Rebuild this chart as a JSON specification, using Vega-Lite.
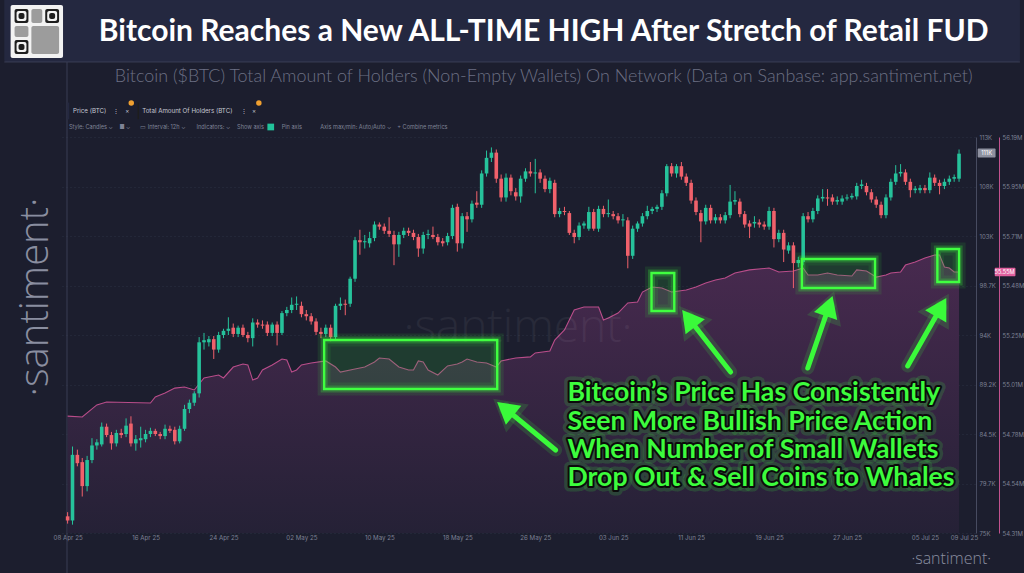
{
"$schema": "https://vega.github.io/schema/vega-lite/v6.json",
"width": 914, "height": 396,
"autosize": {"type": "none"},
"padding": {"left": 61, "top": 137, "right": 49, "bottom": 40},
"background": "#1c1e2e",
"config": {"view": {"stroke": null},
 "axisX": {"grid": false, "domain": false, "ticks": false, "labelColor": "#7d8194", "labelFont": "Inter", "labelFontSize": 6.2, "labelPadding": 1.5, "labelFlush": 5, "labelOverlap": false}},
"params": [{"name": "xv", "expr": "[datetime(2025,3,8),datetime(2025,3,16),datetime(2025,3,24),datetime(2025,4,2),datetime(2025,4,10),datetime(2025,4,18),datetime(2025,4,26),datetime(2025,5,3),datetime(2025,5,11),datetime(2025,5,19),datetime(2025,5,27),datetime(2025,6,5),datetime(2025,6,9)]"}],
"datasets": {
"candles": [
{"t":"2025-04-08T00:00","o":76.6,"h":77.0,"l":75.9,"c":76.2},
{"t":"2025-04-08T12:00","o":76.2,"h":83.3,"l":75.8,"c":82.5},
{"t":"2025-04-09T00:00","o":82.5,"h":83.0,"l":81.4,"c":81.7},
{"t":"2025-04-09T12:00","o":81.8,"h":82.2,"l":78.5,"c":79.5},
{"t":"2025-04-10T00:00","o":79.5,"h":82.4,"l":79.0,"c":82.0},
{"t":"2025-04-10T12:00","o":82.0,"h":84.1,"l":81.7,"c":83.4},
{"t":"2025-04-11T00:00","o":83.4,"h":84.0,"l":83.0,"c":83.7},
{"t":"2025-04-11T12:00","o":83.5,"h":85.6,"l":83.3,"c":85.2},
{"t":"2025-04-12T00:00","o":85.2,"h":85.5,"l":84.2,"c":84.4},
{"t":"2025-04-12T12:00","o":84.4,"h":84.7,"l":83.0,"c":83.6},
{"t":"2025-04-13T00:00","o":83.6,"h":84.9,"l":83.3,"c":84.6},
{"t":"2025-04-13T12:00","o":84.6,"h":85.0,"l":84.1,"c":84.4},
{"t":"2025-04-14T00:00","o":84.5,"h":86.0,"l":84.2,"c":85.3},
{"t":"2025-04-14T12:00","o":85.5,"h":86.2,"l":83.3,"c":83.6},
{"t":"2025-04-15T00:00","o":83.6,"h":84.4,"l":82.9,"c":84.0},
{"t":"2025-04-15T12:00","o":83.9,"h":85.2,"l":83.2,"c":84.1},
{"t":"2025-04-16T00:00","o":84.0,"h":84.9,"l":83.7,"c":84.5},
{"t":"2025-04-16T12:00","o":84.5,"h":85.1,"l":84.2,"c":84.8},
{"t":"2025-04-17T00:00","o":84.8,"h":85.0,"l":84.3,"c":84.5},
{"t":"2025-04-17T12:00","o":84.5,"h":84.7,"l":84.0,"c":84.3},
{"t":"2025-04-18T00:00","o":84.3,"h":85.4,"l":84.0,"c":85.0},
{"t":"2025-04-18T12:00","o":85.0,"h":85.3,"l":84.6,"c":84.8},
{"t":"2025-04-19T00:00","o":84.9,"h":85.2,"l":83.5,"c":83.8},
{"t":"2025-04-19T12:00","o":83.8,"h":85.3,"l":83.6,"c":85.0},
{"t":"2025-04-20T00:00","o":85.0,"h":87.3,"l":84.8,"c":86.9},
{"t":"2025-04-20T12:00","o":86.9,"h":87.8,"l":86.5,"c":87.5},
{"t":"2025-04-21T00:00","o":87.5,"h":88.6,"l":87.2,"c":88.4},
{"t":"2025-04-21T12:00","o":88.4,"h":93.8,"l":88.0,"c":93.3},
{"t":"2025-04-22T00:00","o":93.3,"h":94.2,"l":92.6,"c":93.5},
{"t":"2025-04-22T12:00","o":93.3,"h":93.9,"l":92.9,"c":93.6},
{"t":"2025-04-23T00:00","o":93.6,"h":93.9,"l":91.7,"c":92.6},
{"t":"2025-04-23T12:00","o":92.6,"h":94.3,"l":92.3,"c":94.0},
{"t":"2025-04-24T00:00","o":94.0,"h":94.6,"l":93.7,"c":94.4},
{"t":"2025-04-24T12:00","o":94.4,"h":95.7,"l":94.0,"c":94.6},
{"t":"2025-04-25T00:00","o":94.7,"h":95.1,"l":93.8,"c":94.1},
{"t":"2025-04-25T12:00","o":94.1,"h":94.9,"l":93.8,"c":94.7},
{"t":"2025-04-26T00:00","o":94.7,"h":95.0,"l":93.8,"c":94.0},
{"t":"2025-04-26T12:00","o":94.0,"h":94.3,"l":93.3,"c":93.7},
{"t":"2025-04-27T00:00","o":93.7,"h":95.6,"l":92.9,"c":95.2},
{"t":"2025-04-27T12:00","o":95.2,"h":95.5,"l":94.7,"c":95.0},
{"t":"2025-04-28T00:00","o":95.0,"h":95.4,"l":94.6,"c":94.9},
{"t":"2025-04-28T12:00","o":95.0,"h":95.3,"l":93.9,"c":94.2},
{"t":"2025-04-29T00:00","o":94.2,"h":95.2,"l":93.9,"c":95.0},
{"t":"2025-04-29T12:00","o":95.0,"h":95.3,"l":93.0,"c":94.2},
{"t":"2025-04-30T00:00","o":94.2,"h":96.3,"l":94.0,"c":96.1},
{"t":"2025-04-30T12:00","o":96.1,"h":96.7,"l":95.8,"c":96.4},
{"t":"2025-05-01T00:00","o":96.4,"h":97.6,"l":96.1,"c":96.9},
{"t":"2025-05-01T12:00","o":96.9,"h":97.7,"l":96.4,"c":97.0},
{"t":"2025-05-02T00:00","o":96.8,"h":97.2,"l":95.7,"c":96.0},
{"t":"2025-05-02T12:00","o":96.0,"h":96.4,"l":95.4,"c":95.8},
{"t":"2025-05-03T00:00","o":95.8,"h":96.1,"l":95.0,"c":95.3},
{"t":"2025-05-03T12:00","o":95.3,"h":95.6,"l":94.0,"c":94.3},
{"t":"2025-05-04T00:00","o":94.3,"h":94.7,"l":93.7,"c":94.1},
{"t":"2025-05-04T12:00","o":94.1,"h":95.0,"l":93.8,"c":94.7},
{"t":"2025-05-05T00:00","o":94.7,"h":95.0,"l":93.4,"c":93.8},
{"t":"2025-05-05T12:00","o":93.8,"h":97.0,"l":93.5,"c":96.8},
{"t":"2025-05-06T00:00","o":96.8,"h":97.6,"l":96.4,"c":97.0},
{"t":"2025-05-06T12:00","o":97.0,"h":97.4,"l":95.9,"c":96.9},
{"t":"2025-05-07T00:00","o":97.0,"h":99.6,"l":96.7,"c":99.4},
{"t":"2025-05-07T12:00","o":99.4,"h":103.4,"l":99.1,"c":103.1},
{"t":"2025-05-08T00:00","o":103.1,"h":104.1,"l":101.7,"c":102.9},
{"t":"2025-05-08T12:00","o":102.9,"h":103.6,"l":102.3,"c":103.0},
{"t":"2025-05-09T00:00","o":102.8,"h":103.9,"l":102.4,"c":103.3},
{"t":"2025-05-09T12:00","o":103.3,"h":104.9,"l":103.0,"c":104.6},
{"t":"2025-05-10T00:00","o":104.6,"h":104.8,"l":104.1,"c":104.4},
{"t":"2025-05-10T12:00","o":104.4,"h":104.7,"l":103.7,"c":104.0},
{"t":"2025-05-11T00:00","o":104.0,"h":105.3,"l":103.4,"c":103.7},
{"t":"2025-05-11T12:00","o":103.6,"h":104.0,"l":100.7,"c":102.7},
{"t":"2025-05-12T00:00","o":102.7,"h":103.9,"l":101.5,"c":103.6},
{"t":"2025-05-12T12:00","o":103.6,"h":104.3,"l":103.3,"c":104.0},
{"t":"2025-05-13T00:00","o":104.0,"h":104.3,"l":103.5,"c":103.8},
{"t":"2025-05-13T12:00","o":103.8,"h":104.1,"l":103.1,"c":103.4},
{"t":"2025-05-14T00:00","o":103.4,"h":103.7,"l":101.5,"c":102.3},
{"t":"2025-05-14T12:00","o":102.3,"h":103.9,"l":101.8,"c":103.6},
{"t":"2025-05-15T00:00","o":103.6,"h":104.1,"l":103.2,"c":103.7},
{"t":"2025-05-15T12:00","o":103.6,"h":104.4,"l":103.2,"c":103.4},
{"t":"2025-05-16T00:00","o":103.4,"h":103.7,"l":102.6,"c":102.9},
{"t":"2025-05-16T12:00","o":103.0,"h":103.3,"l":102.5,"c":102.8},
{"t":"2025-05-17T00:00","o":102.9,"h":103.8,"l":102.6,"c":103.5},
{"t":"2025-05-17T12:00","o":103.5,"h":106.5,"l":103.2,"c":106.2},
{"t":"2025-05-18T00:00","o":106.3,"h":106.6,"l":102.0,"c":102.8},
{"t":"2025-05-18T12:00","o":102.8,"h":105.7,"l":102.3,"c":105.4},
{"t":"2025-05-19T00:00","o":105.4,"h":105.8,"l":103.9,"c":105.1},
{"t":"2025-05-19T12:00","o":105.1,"h":106.9,"l":104.8,"c":106.6},
{"t":"2025-05-20T00:00","o":106.7,"h":107.8,"l":106.2,"c":106.5},
{"t":"2025-05-20T12:00","o":106.5,"h":109.8,"l":106.2,"c":109.5},
{"t":"2025-05-21T00:00","o":109.5,"h":111.7,"l":109.2,"c":111.0},
{"t":"2025-05-21T12:00","o":111.0,"h":112.0,"l":110.6,"c":111.5},
{"t":"2025-05-22T00:00","o":111.5,"h":111.8,"l":108.6,"c":109.0},
{"t":"2025-05-22T12:00","o":109.0,"h":109.4,"l":106.8,"c":107.2},
{"t":"2025-05-23T00:00","o":107.2,"h":109.5,"l":106.8,"c":109.1},
{"t":"2025-05-23T12:00","o":109.1,"h":109.4,"l":107.4,"c":107.8},
{"t":"2025-05-24T00:00","o":107.7,"h":108.1,"l":106.9,"c":107.3},
{"t":"2025-05-24T12:00","o":107.3,"h":109.3,"l":106.7,"c":109.0},
{"t":"2025-05-25T00:00","o":109.0,"h":110.0,"l":108.7,"c":109.7},
{"t":"2025-05-25T12:00","o":109.7,"h":110.6,"l":109.2,"c":109.5},
{"t":"2025-05-26T00:00","o":109.5,"h":110.9,"l":107.6,"c":109.6},
{"t":"2025-05-26T12:00","o":109.6,"h":109.9,"l":108.6,"c":109.0},
{"t":"2025-05-27T00:00","o":109.0,"h":109.3,"l":107.7,"c":108.0},
{"t":"2025-05-27T12:00","o":108.0,"h":109.1,"l":107.6,"c":108.8},
{"t":"2025-05-28T00:00","o":108.6,"h":108.9,"l":105.3,"c":105.6},
{"t":"2025-05-28T12:00","o":105.6,"h":106.2,"l":105.3,"c":105.9},
{"t":"2025-05-29T00:00","o":105.9,"h":106.3,"l":105.5,"c":105.8},
{"t":"2025-05-29T12:00","o":105.7,"h":105.9,"l":103.6,"c":103.8},
{"t":"2025-05-30T00:00","o":103.8,"h":104.1,"l":102.8,"c":103.4},
{"t":"2025-05-30T12:00","o":103.4,"h":104.8,"l":103.1,"c":104.5},
{"t":"2025-05-31T00:00","o":104.5,"h":104.9,"l":104.2,"c":104.7},
{"t":"2025-05-31T12:00","o":104.2,"h":106.3,"l":104.0,"c":105.8},
{"t":"2025-06-01T00:00","o":105.8,"h":106.1,"l":104.0,"c":104.2},
{"t":"2025-06-01T12:00","o":104.2,"h":106.4,"l":103.9,"c":106.1},
{"t":"2025-06-02T00:00","o":106.1,"h":106.4,"l":105.3,"c":105.6},
{"t":"2025-06-02T12:00","o":105.6,"h":107.0,"l":105.3,"c":105.7},
{"t":"2025-06-03T00:00","o":105.6,"h":105.9,"l":105.1,"c":105.4},
{"t":"2025-06-03T12:00","o":105.4,"h":105.7,"l":104.7,"c":105.0},
{"t":"2025-06-04T00:00","o":105.0,"h":105.6,"l":104.4,"c":105.1},
{"t":"2025-06-04T12:00","o":105.0,"h":105.3,"l":100.4,"c":101.6},
{"t":"2025-06-05T00:00","o":101.6,"h":104.5,"l":101.3,"c":104.2},
{"t":"2025-06-05T12:00","o":104.2,"h":104.9,"l":103.9,"c":104.7},
{"t":"2025-06-06T00:00","o":104.7,"h":105.7,"l":104.4,"c":105.4},
{"t":"2025-06-06T12:00","o":105.4,"h":106.4,"l":105.1,"c":105.9},
{"t":"2025-06-07T00:00","o":105.9,"h":106.3,"l":105.6,"c":106.1},
{"t":"2025-06-07T12:00","o":106.1,"h":106.5,"l":105.8,"c":106.3},
{"t":"2025-06-08T00:00","o":106.3,"h":107.9,"l":106.0,"c":107.6},
{"t":"2025-06-08T12:00","o":107.6,"h":110.4,"l":107.3,"c":110.2},
{"t":"2025-06-09T00:00","o":110.2,"h":110.5,"l":109.2,"c":109.5},
{"t":"2025-06-09T12:00","o":109.5,"h":110.4,"l":109.1,"c":110.2},
{"t":"2025-06-10T00:00","o":110.2,"h":110.6,"l":108.9,"c":109.2},
{"t":"2025-06-10T12:00","o":109.2,"h":109.5,"l":108.3,"c":108.6},
{"t":"2025-06-11T00:00","o":108.6,"h":108.9,"l":106.6,"c":106.9},
{"t":"2025-06-11T12:00","o":106.9,"h":107.2,"l":105.5,"c":105.8},
{"t":"2025-06-12T00:00","o":105.7,"h":106.0,"l":102.9,"c":104.9},
{"t":"2025-06-12T12:00","o":104.9,"h":106.5,"l":104.6,"c":106.2},
{"t":"2025-06-13T00:00","o":106.2,"h":106.5,"l":104.7,"c":105.0},
{"t":"2025-06-13T12:00","o":105.0,"h":105.6,"l":104.7,"c":105.3},
{"t":"2025-06-14T00:00","o":105.3,"h":105.6,"l":104.7,"c":105.0},
{"t":"2025-06-14T12:00","o":105.0,"h":105.8,"l":104.7,"c":105.5},
{"t":"2025-06-15T00:00","o":105.5,"h":108.4,"l":105.2,"c":106.8},
{"t":"2025-06-15T12:00","o":106.8,"h":107.8,"l":106.5,"c":106.95},
{"t":"2025-06-16T00:00","o":106.8,"h":107.1,"l":105.3,"c":105.6},
{"t":"2025-06-16T12:00","o":105.6,"h":105.9,"l":104.3,"c":104.6},
{"t":"2025-06-17T00:00","o":104.7,"h":105.0,"l":103.3,"c":104.4},
{"t":"2025-06-17T12:00","o":104.7,"h":105.4,"l":104.3,"c":104.85},
{"t":"2025-06-18T00:00","o":104.8,"h":105.1,"l":104.3,"c":104.6},
{"t":"2025-06-18T12:00","o":104.6,"h":104.9,"l":104.1,"c":104.4},
{"t":"2025-06-19T00:00","o":104.4,"h":106.3,"l":104.1,"c":105.9},
{"t":"2025-06-19T12:00","o":105.9,"h":106.2,"l":102.4,"c":103.2},
{"t":"2025-06-20T00:00","o":103.2,"h":104.1,"l":102.9,"c":103.8},
{"t":"2025-06-20T12:00","o":103.8,"h":104.1,"l":101.0,"c":102.2},
{"t":"2025-06-21T00:00","o":102.1,"h":102.9,"l":101.8,"c":102.6},
{"t":"2025-06-21T12:00","o":102.6,"h":102.9,"l":98.5,"c":100.9},
{"t":"2025-06-22T00:00","o":100.9,"h":101.5,"l":100.5,"c":101.2},
{"t":"2025-06-22T12:00","o":101.0,"h":105.7,"l":100.7,"c":105.4},
{"t":"2025-06-23T00:00","o":105.4,"h":105.8,"l":104.8,"c":105.1},
{"t":"2025-06-23T12:00","o":105.1,"h":106.2,"l":104.8,"c":105.9},
{"t":"2025-06-24T00:00","o":105.9,"h":107.4,"l":105.6,"c":107.1},
{"t":"2025-06-24T12:00","o":107.1,"h":108.0,"l":106.8,"c":107.25},
{"t":"2025-06-25T00:00","o":107.2,"h":108.0,"l":106.4,"c":107.1},
{"t":"2025-06-25T12:00","o":107.2,"h":107.5,"l":106.5,"c":106.8},
{"t":"2025-06-26T00:00","o":106.8,"h":107.3,"l":106.5,"c":106.95},
{"t":"2025-06-26T12:00","o":106.8,"h":107.4,"l":106.5,"c":107.1},
{"t":"2025-06-27T00:00","o":107.1,"h":107.5,"l":106.9,"c":107.2},
{"t":"2025-06-27T12:00","o":107.2,"h":107.6,"l":107.0,"c":107.35},
{"t":"2025-06-28T00:00","o":107.3,"h":108.6,"l":107.0,"c":108.3},
{"t":"2025-06-28T12:00","o":108.3,"h":108.9,"l":108.0,"c":108.45},
{"t":"2025-06-29T00:00","o":108.3,"h":108.6,"l":107.4,"c":107.7},
{"t":"2025-06-29T12:00","o":107.7,"h":108.0,"l":106.7,"c":107.0},
{"t":"2025-06-30T00:00","o":107.0,"h":107.3,"l":106.2,"c":106.5},
{"t":"2025-06-30T12:00","o":106.5,"h":106.8,"l":105.2,"c":105.5},
{"t":"2025-07-01T00:00","o":105.5,"h":107.5,"l":105.2,"c":107.2},
{"t":"2025-07-01T12:00","o":107.2,"h":109.0,"l":106.9,"c":108.7},
{"t":"2025-07-02T00:00","o":108.7,"h":110.3,"l":108.4,"c":109.5},
{"t":"2025-07-02T12:00","o":109.5,"h":110.4,"l":109.2,"c":109.65},
{"t":"2025-07-03T00:00","o":109.6,"h":109.9,"l":108.4,"c":108.7},
{"t":"2025-07-03T12:00","o":108.7,"h":109.0,"l":107.2,"c":107.9},
{"t":"2025-07-04T00:00","o":107.9,"h":108.3,"l":107.6,"c":108.05},
{"t":"2025-07-04T12:00","o":107.9,"h":108.4,"l":107.6,"c":108.1},
{"t":"2025-07-05T00:00","o":108.1,"h":108.4,"l":107.6,"c":107.9},
{"t":"2025-07-05T12:00","o":107.9,"h":109.6,"l":107.6,"c":109.1},
{"t":"2025-07-06T00:00","o":109.1,"h":109.4,"l":108.3,"c":108.6},
{"t":"2025-07-06T12:00","o":108.6,"h":108.9,"l":107.5,"c":108.3},
{"t":"2025-07-07T00:00","o":108.3,"h":109.0,"l":108.0,"c":108.7},
{"t":"2025-07-07T12:00","o":108.7,"h":109.3,"l":108.4,"c":109.0},
{"t":"2025-07-08T00:00","o":109.0,"h":109.4,"l":108.7,"c":109.15},
{"t":"2025-07-08T12:00","o":109.0,"h":111.8,"l":108.7,"c":111.4}
],
"holders": [
{"t":"2025-04-08T00:00","v":54.865},{"t":"2025-04-09T12:00","v":54.861},{"t":"2025-04-11T00:00","v":54.918},{"t":"2025-04-12T00:00","v":54.932},
{"t":"2025-04-16T12:00","v":54.927},{"t":"2025-04-17T00:00","v":54.956},{"t":"2025-04-18T00:00","v":54.975},{"t":"2025-04-19T00:00","v":54.998},
{"t":"2025-04-20T00:00","v":55.003},{"t":"2025-04-21T00:00","v":54.989},{"t":"2025-04-22T00:00","v":55.046},{"t":"2025-04-22T12:00","v":55.051},
{"t":"2025-04-23T12:00","v":55.060},{"t":"2025-04-24T00:00","v":55.046},{"t":"2025-04-25T00:00","v":55.098},{"t":"2025-04-26T00:00","v":55.112},
{"t":"2025-04-26T12:00","v":55.108},{"t":"2025-04-27T00:00","v":55.036},{"t":"2025-04-27T12:00","v":55.046},{"t":"2025-04-28T00:00","v":55.084},
{"t":"2025-04-29T00:00","v":55.108},{"t":"2025-04-30T00:00","v":55.136},{"t":"2025-04-30T12:00","v":55.131},{"t":"2025-05-01T00:00","v":55.074},
{"t":"2025-05-01T12:00","v":55.084},{"t":"2025-05-02T00:00","v":55.108},{"t":"2025-05-03T00:00","v":55.117},{"t":"2025-05-04T12:00","v":55.127},
{"t":"2025-05-05T12:00","v":55.098},{"t":"2025-05-06T00:00","v":55.074},{"t":"2025-05-07T12:00","v":55.089},{"t":"2025-05-08T12:00","v":55.098},
{"t":"2025-05-09T12:00","v":55.122},{"t":"2025-05-10T00:00","v":55.141},{"t":"2025-05-11T00:00","v":55.136},{"t":"2025-05-12T00:00","v":55.098},
{"t":"2025-05-13T00:00","v":55.084},{"t":"2025-05-13T12:00","v":55.084},{"t":"2025-05-14T00:00","v":55.127},{"t":"2025-05-14T12:00","v":55.122},
{"t":"2025-05-15T00:00","v":55.084},{"t":"2025-05-16T00:00","v":55.060},{"t":"2025-05-17T00:00","v":55.103},{"t":"2025-05-18T00:00","v":55.112},
{"t":"2025-05-18T12:00","v":55.122},{"t":"2025-05-19T00:00","v":55.136},{"t":"2025-05-20T00:00","v":55.122},{"t":"2025-05-21T00:00","v":55.117},
{"t":"2025-05-22T00:00","v":55.098},{"t":"2025-05-22T12:00","v":55.127},{"t":"2025-05-24T00:00","v":55.141},{"t":"2025-05-25T12:00","v":55.146},
{"t":"2025-05-26T00:00","v":55.165},{"t":"2025-05-27T12:00","v":55.174},{"t":"2025-05-28T00:00","v":55.226},{"t":"2025-05-29T00:00","v":55.274},
{"t":"2025-05-30T00:00","v":55.369},{"t":"2025-05-31T00:00","v":55.383},{"t":"2025-06-01T12:00","v":55.383},{"t":"2025-06-02T00:00","v":55.321},
{"t":"2025-06-02T12:00","v":55.331},{"t":"2025-06-03T12:00","v":55.354},{"t":"2025-06-04T12:00","v":55.402},{"t":"2025-06-05T12:00","v":55.407},
{"t":"2025-06-06T00:00","v":55.454},{"t":"2025-06-07T00:00","v":55.478},{"t":"2025-06-08T00:00","v":55.473},{"t":"2025-06-09T00:00","v":55.454},
{"t":"2025-06-10T12:00","v":55.464},{"t":"2025-06-11T12:00","v":55.478},{"t":"2025-06-12T12:00","v":55.497},{"t":"2025-06-13T12:00","v":55.511},
{"t":"2025-06-14T12:00","v":55.521},{"t":"2025-06-15T12:00","v":55.544},{"t":"2025-06-17T00:00","v":55.559},{"t":"2025-06-19T00:00","v":55.568},
{"t":"2025-06-20T00:00","v":55.549},{"t":"2025-06-21T12:00","v":55.554},{"t":"2025-06-22T12:00","v":55.568},{"t":"2025-06-23T00:00","v":55.535},
{"t":"2025-06-24T00:00","v":55.535},{"t":"2025-06-25T00:00","v":55.544},{"t":"2025-06-26T00:00","v":55.535},{"t":"2025-06-27T12:00","v":55.530},
{"t":"2025-06-28T00:00","v":55.559},{"t":"2025-06-29T00:00","v":55.554},{"t":"2025-06-30T00:00","v":55.525},{"t":"2025-07-01T00:00","v":55.535},
{"t":"2025-07-01T12:00","v":55.544},{"t":"2025-07-02T12:00","v":55.549},{"t":"2025-07-03T00:00","v":55.582},{"t":"2025-07-04T00:00","v":55.597},
{"t":"2025-07-05T00:00","v":55.616},{"t":"2025-07-06T00:00","v":55.630},{"t":"2025-07-06T12:00","v":55.630},{"t":"2025-07-07T00:00","v":55.573},
{"t":"2025-07-07T12:00","v":55.568},{"t":"2025-07-08T00:00","v":55.549},{"t":"2025-07-08T12:00","v":55.549}
],
"boxes": [
{"t1":"2025-05-04T07:55","t2":"2025-05-22T02:20","p1":88.82,"p2":93.52},
{"t1":"2025-06-06T22:25","t2":"2025-06-09T06:30","p1":96.30,"p2":99.95},
{"t1":"2025-06-22T08:50","t2":"2025-06-29T21:05","p1":98.51,"p2":101.29},
{"t1":"2025-07-06T06:35","t2":"2025-07-08T12:10","p1":99.09,"p2":102.25}
],
"arrows": [
{"t1":"2025-05-28T02:05","p1":82.96,"t2":"2025-05-22T22:20","p2":86.93,"a":309},
{"t1":"2025-06-15T01:20","p1":90.45,"t2":"2025-06-10T18:00","p2":95.60,"a":322},
{"t1":"2025-06-22T23:20","p1":90.83,"t2":"2025-06-25T03:50","p2":96.78,"a":19},
{"t1":"2025-07-03T05:30","p1":91.03,"t2":"2025-07-06T15:35","p2":96.67,"a":30}
],
"notes": [
{"t":"2025-05-29T07:18","p":88.43,"s":"Bitcoin’s Price Has Consistently"},
{"t":"2025-05-29T07:18","p":85.65,"s":"Seen More Bullish Price Action"},
{"t":"2025-05-29T07:18","p":82.96,"s":"When Number of Small Wallets"},
{"t":"2025-05-29T07:18","p":80.28,"s":"Drop Out & Sell Coins to Whales"}
],
"decor": [
{"kind":"band","t1":"2025-04-01T12:00","t2":"2025-07-14T18:00","p1":120.2,"p2":126.5},
{"kind":"w","t1":"2025-04-02T03:34","t2":"2025-04-07T12:41","p1":120.58,"p2":125.67},
{"kind":"g","t1":"2025-04-04T06:42","t2":"2025-04-05T09:32","p1":123.94,"p2":125.28},
{"kind":"g","t1":"2025-04-02T13:18","t2":"2025-04-03T23:25","p1":122.60,"p2":123.65},
{"kind":"g","t1":"2025-04-04T06:42","t2":"2025-04-07T02:57","p1":120.97,"p2":123.65},
{"kind":"b","t1":"2025-04-02T13:18","t2":"2025-04-03T23:25","p1":123.94,"p2":125.28},
{"kind":"w","t1":"2025-04-02T18:12","t2":"2025-04-03T18:32","p1":124.13,"p2":125.09},
{"kind":"b","t1":"2025-04-02T23:03","t2":"2025-04-03T13:40","p1":124.32,"p2":124.90},
{"kind":"b","t1":"2025-04-05T16:50","t2":"2025-04-07T02:57","p1":123.94,"p2":125.28},
{"kind":"w","t1":"2025-04-05T21:43","t2":"2025-04-06T22:05","p1":124.13,"p2":125.09},
{"kind":"b","t1":"2025-04-06T02:35","t2":"2025-04-06T17:12","p1":124.32,"p2":124.90},
{"kind":"b","t1":"2025-04-02T13:18","t2":"2025-04-03T23:25","p1":120.97,"p2":122.31},
{"kind":"w","t1":"2025-04-02T18:12","t2":"2025-04-03T18:32","p1":121.16,"p2":122.12},
{"kind":"b","t1":"2025-04-02T23:03","t2":"2025-04-03T13:40","p1":121.35,"p2":121.92}
],
"seps": [
{"t1":"2025-04-01T12:00","t2":"2025-07-14T18:00","p1":120.2,"p2":120.2},
{"t1":"2025-04-07T22:26","t2":"2025-04-07T22:26","p1":120.2,"p2":71.0}
],
"tb1": [
{"t":"2025-04-08T13:04","p":115.5,"s":"Price (BTC)"},
{"t":"2025-04-12T16:58","p":115.5,"s":"⋮"},
{"t":"2025-04-13T22:12","p":115.5,"s":"×"},
{"t":"2025-04-15T15:36","p":115.5,"s":"Total Amount Of Holders (BTC)"},
{"t":"2025-04-25T19:18","p":115.5,"s":"⋮"},
{"t":"2025-04-26T22:06","p":115.5,"s":"×"}
],
"tb2": [
{"t":"2025-04-08T03:18","p":113.96,"s":"Style: Candles  ⌄"},
{"t":"2025-04-13T07:36","p":113.96,"s":"■  ⌄"},
{"t":"2025-04-15T10:42","p":113.96,"s":"▭  Interval: 12h  ⌄"},
{"t":"2025-04-21T05:36","p":113.96,"s":"Indicators:  ⌄"},
{"t":"2025-04-25T09:30","p":113.96,"s":"Show axis"},
{"t":"2025-04-29T23:12","p":113.96,"s":"Pin axis"},
{"t":"2025-05-03T22:12","p":113.96,"s":"Axis max/min: Auto/Auto  ⌄"},
{"t":"2025-05-11T20:12","p":113.96,"s":"+  Combine metrics"}
]
},
"layer": [
{"data": {"name": "decor"}, "mark": {"type": "rect", "cornerRadius": 2},
 "encoding": {
  "x": {"field": "t1", "type": "temporal", "scale": {"domain": [{"year":2025,"month":4,"date":7,"hours":20},{"year":2025,"month":7,"date":9,"hours":15}], "nice": false}, "axis": {"title": null, "format": "%d %b %y", "values": {"signal": "xv"}}},
  "x2": {"field": "t2"},
  "y": {"field": "p1", "type": "quantitative", "scale": {"domain": [75, 113], "nice": false, "zero": false}, "axis": null},
  "y2": {"field": "p2"},
  "color": {"field": "kind", "type": "nominal", "legend": null, "scale": {"domain": ["band","w","b","g"], "range": ["#242840","#f2f2f2","#1e1e1e","#9c9c9c"]}}}},
{"data": {"name": "seps"}, "mark": {"type": "rule", "color": "#3a3e55", "strokeWidth": 1},
 "encoding": {
  "x": {"field": "t1", "type": "temporal", "axis": {"title": null, "format": "%d %b %y", "values": {"signal": "xv"}}}, "x2": {"field": "t2"},
  "y": {"field": "p1", "type": "quantitative", "scale": {"domain": [75, 113], "nice": false, "zero": false}, "axis": null}, "y2": {"field": "p2"}}},
{"data": {"values": [{"t":"2025-04-04T18:55","p":97.65,"s":"·santiment·"}]},
 "mark": {"type": "text", "font": "Open Sans", "fontSize": 40, "fontWeight": 300, "color": "#8a8ea0", "align": "center", "baseline": "middle", "angle": 270},
 "encoding": {"x": {"field": "t", "type": "temporal", "axis": {"title": null, "format": "%d %b %y", "values": {"signal": "xv"}}}, "y": {"field": "p", "type": "quantitative", "scale": {"domain": [75, 113], "nice": false, "zero": false}, "axis": null}, "text": {"field": "s"}}},
{"data": {"values": [{"t":"2025-07-07T16:45","p":72.55,"s":"·santiment·"}]},
 "mark": {"type": "text", "font": "Open Sans", "fontSize": 16, "fontWeight": 300, "color": "#8a8ea0", "align": "center", "baseline": "middle"},
 "encoding": {"x": {"field": "t", "type": "temporal", "axis": {"title": null, "format": "%d %b %y", "values": {"signal": "xv"}}}, "y": {"field": "p", "type": "quantitative", "scale": {"domain": [75, 113], "nice": false, "zero": false}, "axis": null}, "text": {"field": "s"}}},
{"data": {"values": [{"t":"2025-05-26T20:48","p":123.08,"s":"Bitcoin Reaches a New ALL-TIME HIGH After Stretch of Retail FUD"}]},
 "mark": {"type": "text", "font": "Lato", "fontSize": 30, "fontWeight": "bold", "color": "#ffffff", "align": "center", "baseline": "middle"},
 "encoding": {"x": {"field": "t", "type": "temporal", "axis": {"title": null, "format": "%d %b %y", "values": {"signal": "xv"}}}, "y": {"field": "p", "type": "quantitative", "scale": {"domain": [75, 113], "nice": false, "zero": false}, "axis": null}, "text": {"field": "s"}}},
{"data": {"values": [{"t":"2025-05-26T20:48","p":118.76,"s":"Bitcoin ($BTC) Total Amount of Holders (Non-Empty Wallets) On Network (Data on Sanbase: app.santiment.net)"}]},
 "mark": {"type": "text", "font": "Lato", "fontSize": 17.9, "fontWeight": 300, "color": "#6c7084", "align": "center", "baseline": "middle"},
 "encoding": {"x": {"field": "t", "type": "temporal", "axis": {"title": null, "format": "%d %b %y", "values": {"signal": "xv"}}}, "y": {"field": "p", "type": "quantitative", "scale": {"domain": [75, 113], "nice": false, "zero": false}, "axis": null}, "text": {"field": "s"}}},
{"data": {"name": "tb1"},
 "mark": {"type": "text", "font": "Inter", "fontSize": 6.2, "color": "#c5c8d3", "align": "left", "baseline": "middle"},
 "encoding": {"x": {"field": "t", "type": "temporal", "axis": {"title": null, "format": "%d %b %y", "values": {"signal": "xv"}}}, "y": {"field": "p", "type": "quantitative", "scale": {"domain": [75, 113], "nice": false, "zero": false}, "axis": null}, "text": {"field": "s"}}},
{"data": {"name": "tb2"},
 "mark": {"type": "text", "font": "Inter", "fontSize": 5.6, "color": "#7f8396", "align": "left", "baseline": "middle"},
 "encoding": {"x": {"field": "t", "type": "temporal", "axis": {"title": null, "format": "%d %b %y", "values": {"signal": "xv"}}}, "y": {"field": "p", "type": "quantitative", "scale": {"domain": [75, 113], "nice": false, "zero": false}, "axis": null}, "text": {"field": "s"}}},
{"data": {"values": [{"t":"2025-04-14T12:48","p":116.26},{"t":"2025-04-27T15:06","p":116.26}]},
 "mark": {"type": "point", "shape": "circle", "filled": true, "size": 30, "color": "#f0a030", "opacity": 1},
 "encoding": {"x": {"field": "t", "type": "temporal", "axis": {"title": null, "format": "%d %b %y", "values": {"signal": "xv"}}}, "y": {"field": "p", "type": "quantitative", "scale": {"domain": [75, 113], "nice": false, "zero": false}, "axis": null}}},
{"data": {"values": [{"t":"2025-04-28T20:24","p":113.96}]},
 "mark": {"type": "point", "shape": "square", "filled": true, "size": 45, "color": "#22c39a", "opacity": 1},
 "encoding": {"x": {"field": "t", "type": "temporal", "axis": {"title": null, "format": "%d %b %y", "values": {"signal": "xv"}}}, "y": {"field": "p", "type": "quantitative", "scale": {"domain": [75, 113], "nice": false, "zero": false}, "axis": null}}},
{"data": {"values": [{"t":"2025-04-08T02:06","p1":116.3,"p2":114.7,"k":"a"},{"t":"2025-04-15T05:54","p1":116.3,"p2":114.7,"k":"b"}]},
 "mark": {"type": "rule", "strokeWidth": 1.5},
 "encoding": {"x": {"field": "t", "type": "temporal", "axis": {"title": null, "format": "%d %b %y", "values": {"signal": "xv"}}}, "y": {"field": "p1", "type": "quantitative", "scale": {"domain": [75, 113], "nice": false, "zero": false}, "axis": null}, "y2": {"field": "p2"},
  "color": {"field": "k", "type": "nominal", "legend": null, "scale": {"domain": ["a","b"], "range": ["#8a8ea0","#d0578f"]}}}},
{"data": {"name": "holders"},
 "mark": {"type": "area", "interpolate": "linear", "fill": {"gradient": "linear", "x1": 0, "y1": 0, "x2": 0, "y2": 1, "stops": [{"offset": 0, "color": "#482a4f"}, {"offset": 1, "color": "#252136"}]}},
 "encoding": {
  "x": {"field": "t", "type": "temporal", "axis": {"title": null, "format": "%d %b %y", "values": {"signal": "xv"}}},
  "y": {"field": "v", "type": "quantitative", "scale": {"domain": [54.31, 56.19], "nice": false, "zero": false},
   "axis": {"orient": "right", "offset": 24, "title": null, "values": [54.31,54.545,54.78,55.015,55.25,55.485,55.72,55.955,56.19],
    "labelExpr": "['54.31M','54.54M','54.78M','55.01M','55.25M','55.48M','55.71M','55.95M','56.19M'][round((datum.value-54.31)/0.235)]",
    "domainColor": "#c2528e", "domainWidth": 1, "ticks": false, "grid": false, "labelColor": "#7d8194", "labelFont": "Inter", "labelFontSize": 6, "labelPadding": 3}},
  "y2": {"datum": 54.31}}},
{"data": {"name": "holders"},
 "mark": {"type": "line", "interpolate": "linear", "stroke": "#b94d8a", "strokeWidth": 1.1},
 "encoding": {"x": {"field": "t", "type": "temporal", "axis": {"title": null, "format": "%d %b %y", "values": {"signal": "xv"}}}, "y": {"field": "v", "type": "quantitative", "scale": {"domain": [54.31, 56.19], "nice": false, "zero": false}, "axis": null}}},
{"data": {"values": [{"t":"2025-05-24T05:30","p":94.67,"s":"·santiment·"}]},
 "mark": {"type": "text", "font": "Open Sans", "fontSize": 46, "fontWeight": 300, "color": "#ffffff", "opacity": 0.05, "align": "center", "baseline": "middle"},
 "encoding": {"x": {"field": "t", "type": "temporal", "axis": {"title": null, "format": "%d %b %y", "values": {"signal": "xv"}}}, "y": {"field": "p", "type": "quantitative", "scale": {"domain": [75, 113], "nice": false, "zero": false}, "axis": null}, "text": {"field": "s"}}},
{"data": {"values": [{"t1":"2025-07-12T03:55","t2":"2025-07-14T07:00","v1":55.529,"v2":55.569}]},
 "mark": {"type": "rect", "color": "#e0609e", "cornerRadius": 1},
 "encoding": {"x": {"field": "t1", "type": "temporal", "axis": {"title": null, "format": "%d %b %y", "values": {"signal": "xv"}}}, "x2": {"field": "t2"}, "y": {"field": "v1", "type": "quantitative", "scale": {"domain": [54.31, 56.19], "nice": false, "zero": false}, "axis": null}, "y2": {"field": "v2"}}},
{"data": {"values": [{"t":"2025-07-13T04:20","v":55.549,"s":"55.55M"}]},
 "mark": {"type": "text", "font": "Inter", "fontSize": 5.6, "color": "#ffffff", "align": "center", "baseline": "middle"},
 "encoding": {"x": {"field": "t", "type": "temporal", "axis": {"title": null, "format": "%d %b %y", "values": {"signal": "xv"}}}, "y": {"field": "v", "type": "quantitative", "scale": {"domain": [54.31, 56.19], "nice": false, "zero": false}, "axis": null}, "text": {"field": "s"}}},
{"data": {"name": "candles"},
 "mark": {"type": "rule", "strokeWidth": 1},
 "encoding": {
  "x": {"field": "t", "type": "temporal", "axis": {"title": null, "format": "%d %b %y", "values": {"signal": "xv"}}},
  "y": {"field": "l", "type": "quantitative", "scale": {"domain": [75, 113], "nice": false, "zero": false},
   "axis": {"orient": "right", "offset": 1, "title": null, "values": [75,79.75,84.5,89.25,94,98.75,103.5,108.25,113],
    "labelExpr": "['75K','79.7K','84.5K','89.2K','94K','98.7K','103K','108K','113K'][round((datum.value-75)/4.75)]",
    "domainColor": "#474b60", "ticks": false, "grid": true, "gridColor": "#30344a", "gridDash": [1, 3], "gridOpacity": 0.8,
    "labelColor": "#7d8194", "labelFont": "Inter", "labelFontSize": 6, "labelPadding": 3}},
  "y2": {"field": "h"},
  "color": {"condition": {"test": "datum.c >= datum.o", "value": "#26c29b"}, "value": "#f0616b"}}},
{"data": {"name": "candles"},
 "mark": {"type": "bar", "size": 3.6},
 "encoding": {
  "x": {"field": "t", "type": "temporal", "axis": {"title": null, "format": "%d %b %y", "values": {"signal": "xv"}}},
  "y": {"field": "o", "type": "quantitative", "scale": {"domain": [75, 113], "nice": false, "zero": false}, "axis": null},
  "y2": {"field": "c"},
  "color": {"condition": {"test": "datum.c >= datum.o", "value": "#26c29b"}, "value": "#f0616b"}}},
{"data": {"name": "boxes"},
 "mark": {"type": "rect", "fillOpacity": 0, "stroke": "#3dff3d", "strokeWidth": 13, "strokeOpacity": 0.1},
 "encoding": {"x": {"field": "t1", "type": "temporal", "axis": {"title": null, "format": "%d %b %y", "values": {"signal": "xv"}}}, "x2": {"field": "t2"}, "y": {"field": "p1", "type": "quantitative", "scale": {"domain": [75, 113], "nice": false, "zero": false}, "axis": null}, "y2": {"field": "p2"}}},
{"data": {"name": "boxes"},
 "mark": {"type": "rect", "fillOpacity": 0, "stroke": "#3dff3d", "strokeWidth": 7, "strokeOpacity": 0.25},
 "encoding": {"x": {"field": "t1", "type": "temporal", "axis": {"title": null, "format": "%d %b %y", "values": {"signal": "xv"}}}, "x2": {"field": "t2"}, "y": {"field": "p1", "type": "quantitative", "scale": {"domain": [75, 113], "nice": false, "zero": false}, "axis": null}, "y2": {"field": "p2"}}},
{"data": {"name": "boxes"},
 "mark": {"type": "rect", "fill": "#2fb53a", "fillOpacity": 0.2, "stroke": "#40ff40", "strokeWidth": 2.4},
 "encoding": {"x": {"field": "t1", "type": "temporal", "axis": {"title": null, "format": "%d %b %y", "values": {"signal": "xv"}}}, "x2": {"field": "t2"}, "y": {"field": "p1", "type": "quantitative", "scale": {"domain": [75, 113], "nice": false, "zero": false}, "axis": null}, "y2": {"field": "p2"}}},
{"data": {"name": "arrows"},
 "mark": {"type": "rule", "color": "#3dff3d", "strokeWidth": 13, "opacity": 0.15, "strokeCap": "round"},
 "encoding": {"x": {"field": "t1", "type": "temporal", "axis": {"title": null, "format": "%d %b %y", "values": {"signal": "xv"}}}, "x2": {"field": "t2"}, "y": {"field": "p1", "type": "quantitative", "scale": {"domain": [75, 113], "nice": false, "zero": false}, "axis": null}, "y2": {"field": "p2"}}},
{"data": {"name": "arrows"},
 "mark": {"type": "rule", "color": "#3afa3a", "strokeWidth": 5, "strokeCap": "round"},
 "encoding": {"x": {"field": "t1", "type": "temporal", "axis": {"title": null, "format": "%d %b %y", "values": {"signal": "xv"}}}, "x2": {"field": "t2"}, "y": {"field": "p1", "type": "quantitative", "scale": {"domain": [75, 113], "nice": false, "zero": false}, "axis": null}, "y2": {"field": "p2"}}},
{"data": {"name": "arrows"},
 "mark": {"type": "point", "shape": "triangle-up", "filled": true, "size": 1300, "color": "#3dff3d", "opacity": 0.15},
 "encoding": {"x": {"field": "t2", "type": "temporal", "axis": {"title": null, "format": "%d %b %y", "values": {"signal": "xv"}}}, "y": {"field": "p2", "type": "quantitative", "scale": {"domain": [75, 113], "nice": false, "zero": false}, "axis": null}, "angle": {"field": "a", "type": "quantitative", "scale": null}}},
{"data": {"name": "arrows"},
 "mark": {"type": "point", "shape": "triangle-up", "filled": true, "size": 600, "color": "#3afa3a", "opacity": 1},
 "encoding": {"x": {"field": "t2", "type": "temporal", "axis": {"title": null, "format": "%d %b %y", "values": {"signal": "xv"}}}, "y": {"field": "p2", "type": "quantitative", "scale": {"domain": [75, 113], "nice": false, "zero": false}, "axis": null}, "angle": {"field": "a", "type": "quantitative", "scale": null}}},
{"data": {"name": "notes"},
 "mark": {"type": "text", "font": "Lato", "fontSize": 26.7, "fontWeight": "bold", "align": "left", "baseline": "middle", "fill": "#3dff3d", "fillOpacity": 0.2, "stroke": "#3dff3d", "strokeWidth": 11, "strokeOpacity": 0.16, "strokeJoin": "round"},
 "encoding": {"x": {"field": "t", "type": "temporal", "axis": {"title": null, "format": "%d %b %y", "values": {"signal": "xv"}}}, "y": {"field": "p", "type": "quantitative", "scale": {"domain": [75, 113], "nice": false, "zero": false}, "axis": null}, "text": {"field": "s"}}},
{"data": {"name": "notes"},
 "mark": {"type": "text", "font": "Lato", "fontSize": 26.7, "fontWeight": "bold", "align": "left", "baseline": "middle", "fill": "#0b0b0b", "stroke": "#0b0b0b", "strokeWidth": 4, "strokeJoin": "round"},
 "encoding": {"x": {"field": "t", "type": "temporal", "axis": {"title": null, "format": "%d %b %y", "values": {"signal": "xv"}}}, "y": {"field": "p", "type": "quantitative", "scale": {"domain": [75, 113], "nice": false, "zero": false}, "axis": null}, "text": {"field": "s"}}},
{"data": {"name": "notes"},
 "mark": {"type": "text", "font": "Lato", "fontSize": 26.7, "fontWeight": "bold", "align": "left", "baseline": "middle", "fill": "#3dfc3d"},
 "encoding": {"x": {"field": "t", "type": "temporal", "axis": {"title": null, "format": "%d %b %y", "values": {"signal": "xv"}}}, "y": {"field": "p", "type": "quantitative", "scale": {"domain": [75, 113], "nice": false, "zero": false}, "axis": null}, "text": {"field": "s"}}},
{"data": {"values": [{"t1":"2025-07-10T10:00","t2":"2025-07-12T06:00","p1":111.03,"p2":111.9}]},
 "mark": {"type": "rect", "color": "#8e91a0", "cornerRadius": 1},
 "encoding": {"x": {"field": "t1", "type": "temporal", "axis": {"title": null, "format": "%d %b %y", "values": {"signal": "xv"}}}, "x2": {"field": "t2"}, "y": {"field": "p1", "type": "quantitative", "scale": {"domain": [75, 113], "nice": false, "zero": false}, "axis": null}, "y2": {"field": "p2"}}},
{"data": {"values": [{"t":"2025-07-11T08:00","p":111.46,"s":"111K"}]},
 "mark": {"type": "text", "font": "Inter", "fontSize": 5.8, "color": "#ffffff", "align": "center", "baseline": "middle"},
 "encoding": {"x": {"field": "t", "type": "temporal", "axis": {"title": null, "format": "%d %b %y", "values": {"signal": "xv"}}}, "y": {"field": "p", "type": "quantitative", "scale": {"domain": [75, 113], "nice": false, "zero": false}, "axis": null}, "text": {"field": "s"}}}
],
"resolve": {"scale": {"y": "independent"}}
}
